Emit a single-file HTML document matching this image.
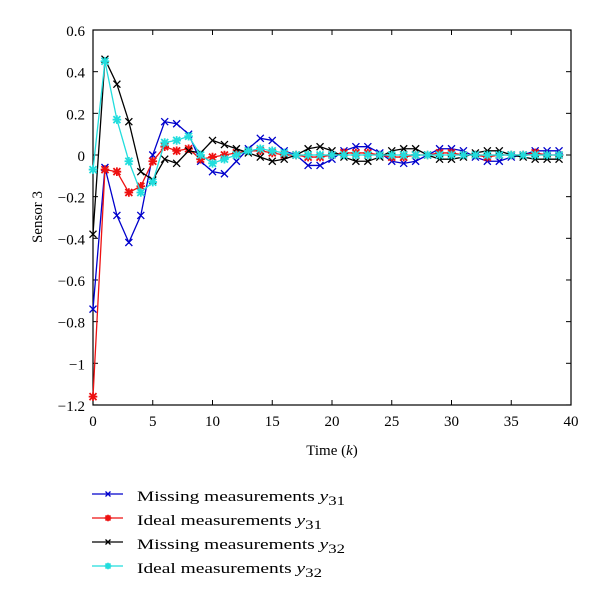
<!DOCTYPE html>
<html><head><meta charset="utf-8"><style>
body{margin:0;background:#fff;width:600px;height:602px;overflow:hidden}
svg text{font-family:"Liberation Serif",serif;font-size:15px;fill:#000}
</style></head><body>
<svg id="chart" width="600" height="602" xmlns="http://www.w3.org/2000/svg">
<rect x="93" y="30" width="478" height="375" fill="none" stroke="#000" stroke-width="1.2"/>
<g id="ticks"></g>
<g id="series"></g>
<text transform="translate(42,217) rotate(-90)" text-anchor="middle" font-size="17">Sensor 3</text>
<text x="332" y="455" text-anchor="middle" font-size="17">Time (<tspan font-style="italic">k</tspan>)</text>
<g id="legend"></g>
</svg>
<script>
const xTicks=[0,5,10,15,20,25,30,35,40];
const yTicks=[0.6,0.4,0.2,0,-0.2,-0.4,-0.6,-0.8,-1,-1.2];
const yTickLabels=["0.6","0.4","0.2","0","\u22120.2","\u22120.4","\u22120.6","\u22120.8","\u22121","\u22121.2"];
const missY31=[-0.74,-0.06,-0.29,-0.42,-0.29,0,0.16,0.15,0.1,-0.03,-0.08,-0.09,-0.03,0.03,0.08,0.07,0.02,0,-0.05,-0.05,-0.02,0.02,0.04,0.04,0.01,-0.03,-0.04,-0.03,0,0.03,0.03,0.02,-0.01,-0.03,-0.03,-0.01,0,0.02,0.02,0.02];
const idealY31=[-1.16,-0.07,-0.08,-0.18,-0.15,-0.03,0.04,0.02,0.03,-0.02,-0.01,0,0.01,0.02,0.02,0.01,0,0,-0.01,-0.01,0,0.01,0.01,0.01,0,-0.01,-0.01,0,0,0.01,0.01,0,0,-0.01,0,0,0,0.01,0,0];
const missY32=[-0.38,0.46,0.34,0.16,-0.08,-0.12,-0.02,-0.04,0.02,0.01,0.07,0.05,0.03,0.01,-0.01,-0.03,-0.02,0,0.03,0.04,0.02,-0.01,-0.03,-0.03,-0.01,0.02,0.03,0.03,0,-0.02,-0.02,-0.01,0.01,0.02,0.02,0,-0.01,-0.02,-0.02,-0.02];
const idealY32=[-0.07,0.45,0.17,-0.03,-0.18,-0.13,0.06,0.07,0.09,0,-0.04,-0.02,0,0.02,0.03,0.02,0.01,0,0,0,0,0,0,0,0,0,0,0,0,0,0,0,0,0,0,0,0,0,0,0];
const NS="http://www.w3.org/2000/svg";
const X=v=>93+v*11.95, Y=v=>155-v*208.3;
function mk(t,a,p){const e=document.createElementNS(NS,t);for(const k in a)e.setAttribute(k,a[k]);p.appendChild(e);return e;}
const tk=document.getElementById('ticks');
xTicks.forEach(v=>{
 const l=mk('line',{x1:X(v),x2:X(v),y1:405,y2:400,stroke:'#000'},tk);
 
 
 const l2=mk('line',{x1:X(v),x2:X(v),y1:30,y2:35,stroke:'#000'},tk);
 
 
 const t=mk('text',{x:X(v),y:426,'text-anchor':'middle','font-size':17},tk);t.textContent=v;
 
 
});
yTicks.forEach((v,i)=>{
 const l=mk('line',{x1:93,x2:98,y1:Y(v),y2:Y(v),stroke:'#000'},tk);
 
 
 const l2=mk('line',{x1:571,x2:566,y1:Y(v),y2:Y(v),stroke:'#000'},tk);
 
 
 const t=mk('text',{x:85,y:Y(v)+6,'text-anchor':'end','font-size':17},tk);t.textContent=yTickLabels[i];
 
 
});
function marker(g,x,y,type,c,s){
 s=s||3.5;
 let d=`M${x-s},${y-s}L${x+s},${y+s}M${x-s},${y+s}L${x+s},${y-s}`;
 if(type==='star')d+=`M${x-s-0.8},${y}L${x+s+0.8},${y}M${x},${y-s-0.8}L${x},${y+s+0.8}`;
 mk('path',{d:d,stroke:c,'stroke-width':type==='star'?1.8:1.3,fill:'none'},g);
}
const series=[
 {name:'missing-y31',data:missY31,c:'#0000cc',m:'x'},
 {name:'ideal-y31',data:idealY31,c:'#ee1111',m:'star'},
 {name:'missing-y32',data:missY32,c:'#000000',m:'x'},
 {name:'ideal-y32',data:idealY32,c:'#22dddd',m:'star'}];
const sg=document.getElementById('series');
series.forEach(s=>{
 const g=mk('g',{},sg);
 
 
 mk('polyline',{points:s.data.map((v,i)=>X(i)+','+Y(v)).join(' '),fill:'none',stroke:s.c,'stroke-width':1.3},g);
 s.data.forEach((v,i)=>marker(g,X(i),Y(v),s.m,s.c));
});
const lg=document.getElementById('legend');
const labels=['Missing measurements ','Ideal measurements ','Missing measurements ','Ideal measurements '];
const subs=['31','31','32','32'];
const lens=[208,185,208,185];
series.forEach((s,i)=>{
 const y=494+i*24;
 const g=mk('g',{},lg);
 
 
 mk('line',{x1:92,x2:123,y1:y,y2:y,stroke:s.c,'stroke-width':1.3},g);
 marker(g,108,y,s.m,s.c,2.5);
 const t=mk('text',{x:137,y:y+7,'font-size':20,textLength:lens[i],lengthAdjust:'spacingAndGlyphs'},g);
 t.innerHTML=labels[i]+'<tspan font-style="italic">y</tspan><tspan font-size="13" dy="4">'+subs[i]+'</tspan>';
});
</script>
</body></html>
